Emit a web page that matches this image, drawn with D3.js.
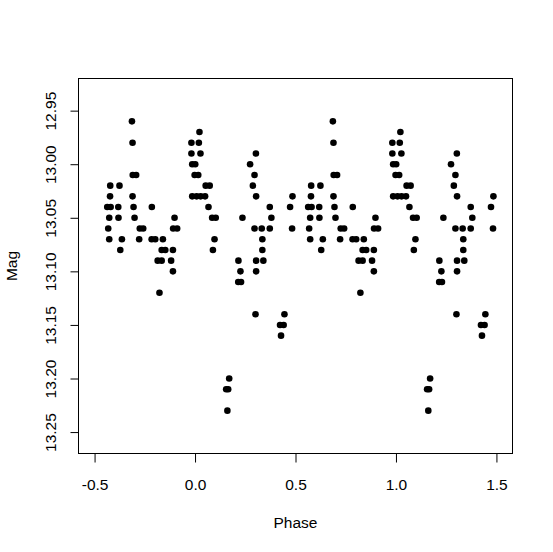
<!DOCTYPE html>
<html>
<head>
<meta charset="utf-8">
<script src="https://cdn.jsdelivr.net/npm/d3@7"></script>
<style>
  html, body { margin: 0; padding: 0; background: #fff; }
  svg { display: block; }
  text { font-family: "Liberation Sans", Arial, sans-serif; font-size: 15.5px; fill: #000; }
</style>
</head>
<body>
<svg id="chart" width="553" height="552"></svg>
<script>
// Phase of each observation (the chart also repeats each point at phase + 1)
const phase = [
  -0.422, -0.376, -0.423, -0.437, -0.420, -0.382, -0.427, -0.381, -0.432, -0.427, -0.364, -0.372,
  -0.314, -0.311, -0.310, -0.293, -0.311, -0.306, -0.301, -0.275, -0.258, -0.278,
  -0.215, -0.216, -0.198, -0.160, -0.166, -0.148, -0.110, -0.186, -0.166, -0.119, -0.110, -0.177, -0.102, -0.109, -0.089,
  0.022, -0.018, 0.019, -0.018, 0.027, -0.014, 0.001, -0.002, 0.016, -0.014, 0.008, 0.028, 0.050, 0.053, 0.073, 0.067, 0.085, 0.103, 0.097, 0.089,
  0.170, 0.155, 0.165, 0.161,
  0.236, 0.216, 0.226, 0.215, 0.229, 0.303, 0.274, 0.296, 0.288, 0.304, 0.296, 0.332, 0.372, 0.335, 0.335, 0.304, 0.340, 0.304, 0.301, 0.372, 0.380,
  0.445, 0.423, 0.441, 0.428, 0.485, 0.473, 0.483
];
const mag = [
  13.02, 13.02, 13.03, 13.04, 13.04, 13.04, 13.05, 13.05, 13.06, 13.07, 13.07, 13.08,
  12.96, 12.98, 13.01, 13.01, 13.03, 13.04, 13.05, 13.06, 13.06, 13.07,
  13.04, 13.07, 13.07, 13.07, 13.08, 13.08, 13.08, 13.09, 13.09, 13.09, 13.10, 13.12, 13.05, 13.06, 13.06,
  12.97, 12.98, 12.98, 12.99, 12.99, 13.00, 13.00, 13.01, 13.01, 13.03, 13.03, 13.03, 13.03, 13.02, 13.02, 13.04, 13.05, 13.05, 13.07, 13.08,
  13.20, 13.21, 13.21, 13.23,
  13.05, 13.09, 13.10, 13.11, 13.11, 12.99, 13.00, 13.01, 13.02, 13.03, 13.06, 13.06, 13.06, 13.07, 13.08, 13.09, 13.09, 13.10, 13.14, 13.04, 13.05,
  13.14, 13.15, 13.15, 13.16, 13.03, 13.04, 13.06
];
const cycleOffsets = [0, 1];
const xTicks = [-0.5, 0.0, 0.5, 1.0, 1.5];
const yTicks = [12.95, 13.00, 13.05, 13.10, 13.15, 13.20, 13.25];
const xTitle = "Phase";
const yTitle = "Mag";

const svg = d3.select("#chart");
const L = 78.5, R = 512.5, T = 78.5, B = 453.5;

const x = d3.scaleLinear().domain([-0.58, 1.58]).range([L, R]);
const y = d3.scaleLinear().domain([12.92, 13.27]).range([T, B]); // magnitude: brighter at top

// points
const pts = [];
cycleOffsets.forEach(o => phase.forEach((p, i) => pts.push({ p: p + o, m: mag[i] })));
svg.append("g").selectAll("circle").data(pts).join("circle")
  .attr("cx", d => x(d.p))
  .attr("cy", d => y(d.m))
  .attr("r", 3.3)
  .attr("fill", "#000");

// x axis
const xa = svg.append("g").attr("transform", `translate(0,${B})`)
  .call(d3.axisBottom(x).tickValues(xTicks).tickSize(9).tickPadding(0)
    .tickFormat(d => d.toFixed(1)));
xa.select(".domain").remove();
xa.selectAll(".tick line").attr("stroke", "#000");
xa.selectAll(".tick text").attr("y", 36).attr("dy", 0)
  .style("font-size", "15.5px").style("font-family", "'Liberation Sans', Arial, sans-serif");
xa.attr("font-size", null).attr("font-family", null);

// y axis
const ya = svg.append("g").attr("transform", `translate(${L},0)`)
  .call(d3.axisLeft(y).tickValues(yTicks).tickSize(8).tickPadding(0)
    .tickFormat(d => d.toFixed(2)));
ya.select(".domain").remove();
ya.selectAll(".tick line").attr("stroke", "#000");
ya.selectAll(".tick text")
  .attr("x", null).attr("y", null).attr("dy", 0)
  .attr("text-anchor", "middle")
  .attr("transform", `translate(${55.5 - L},0) rotate(-90)`)
  .style("font-size", "15.5px").style("font-family", "'Liberation Sans', Arial, sans-serif");
ya.attr("font-size", null).attr("font-family", null);

// box
svg.append("rect").attr("x", L).attr("y", T).attr("width", R - L).attr("height", B - T)
  .attr("fill", "none").attr("stroke", "#000").attr("stroke-width", 1);

// titles
svg.append("text").attr("x", (L + R) / 2).attr("y", 528).attr("text-anchor", "middle").text(xTitle);
svg.append("text").attr("transform", `translate(17,${(T + B) / 2}) rotate(-90)`)
  .attr("text-anchor", "middle").text(yTitle);
</script>
</body>
</html>
